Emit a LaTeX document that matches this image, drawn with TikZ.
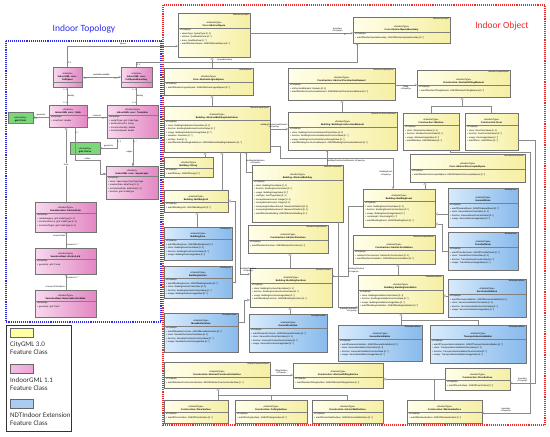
\documentclass[tikz,border=0pt]{standalone}
\usepackage{fontspec}
\setmainfont{Liberation Sans}
\newfontfamily\legendfont{Carlito}
\usetikzlibrary{arrows.meta}

\definecolor{cityL}{HTML}{FFFFEA}
\definecolor{cityR}{HTML}{F6EFA4}
\definecolor{indoorL}{HTML}{F8D8ED}
\definecolor{indoorR}{HTML}{E388C4}
\definecolor{ndtL}{HTML}{D8EBFC}
\definecolor{ndtR}{HTML}{88BAEC}
\definecolor{gmlgreen}{HTML}{7CD67A}
\definecolor{linegray}{HTML}{8A8A8A}
\definecolor{topoblue}{HTML}{2D2DF2}
\definecolor{objred}{HTML}{EE2A2A}
\definecolor{swcity}{HTML}{FFFFA4}
\definecolor{swindoor}{HTML}{EEA2D7}
\definecolor{swndt}{HTML}{A9CDF2}

\tikzset{
  clsbox/.style={draw=black!55, line width=0.3pt, anchor=north west, inner sep=0pt, outer sep=0pt},
  citygml/.style={left color=cityL, right color=cityR},
  indoorgml/.style={left color=indoorL, right color=indoorR},
  ndtindoor/.style={left color=ndtL, right color=ndtR},
  geomcls/.style={fill=gmlgreen},
  clsrule/.style={draw=black!50, line width=0.25pt},
  clsstereo/.style={anchor=north east, inner sep=0pt, font=\fontsize{1.9}{2.3}\selectfont\itshape},
  clshead/.style={anchor=south, inner sep=0pt, align=center, font=\fontsize{2.3}{3}\selectfont},
  clsattr/.style={anchor=north west, inner sep=0pt, align=left, font=\fontsize{2.2}{3.5}\selectfont},
  conn/.style={draw=linegray, line width=0.35pt},
  assoc/.style={conn, -{Straight Barb[length=2pt,width=2.4pt]}},
  gen/.style={conn, -{Triangle[open,length=2.6pt,width=3pt]}},
  comp/.style={conn, -{Diamond[length=3.4pt,width=2.4pt]}},
  lbl/.style={inner sep=0.4pt, align=center, font=\fontsize{2.1}{2.6}\selectfont},
  frametopo/.style={draw=topoblue, line width=1.1pt, densely dotted},
  frameobj/.style={draw=objred, line width=1.1pt, densely dotted},
  titletext/.style={inner sep=0pt, font=\legendfont\fontsize{9.5}{11}\selectfont},
  swatch/.style={draw=black!60, line width=0.4pt, anchor=north west, minimum width=23pt, minimum height=9pt, inner sep=0pt},
  legendtext/.style={anchor=north west, inner sep=0pt, align=left, text=black!80, font=\legendfont\fontsize{7}{8}\selectfont},
}

\newcommand{\fthead}[1]{«FeatureType»\\\textbf{#1}}
\newcommand{\umlclass}[9]{%
  \node[clsbox,#6,minimum width=#3pt,minimum height=#4pt] (#1) at (#2) {};
  \draw[clsrule] ([yshift=-#5pt]#1.north west) -- ([yshift=-#5pt]#1.north east);
  \node[clsstereo] (#1-st) at ([xshift=-1pt,yshift=-0.8pt]#1.north east) {#7};
  \node[clshead] (#1-hd) at ([yshift=-#5pt+1.2pt]#1.north) {#8};
  \node[clsattr] (#1-at) at ([xshift=2pt,yshift=-#5pt-1.2pt]#1.north west) {#9};
}

\begin{document}
\begin{tikzpicture}[x=1pt,y=-1pt]
  \useasboundingbox (0,0) rectangle (550,437);
  \fill[white] (0,0) rectangle (550,437);

  \draw[frametopo] (6,41) rectangle (161,322);
  \draw[frameobj] (163,5) rectangle (545,425);
  \node[titletext, text=topoblue] (topotitle) at (84,29) {Indoor Topology};
  \node[titletext, text=objred] (objtitle) at (502,26) {Indoor Object};

  \umlclass{cellspace}{53,67}{29}{20}{15}{indoorgml}{}{«Feature»\\\textbf{IndoorGML core::}\\\textbf{CellSpace}}{}
  \umlclass{cellbound}{121,67}{31}{20}{15}{indoorgml}{}{«Feature»\\\textbf{IndoorGML core::}\\\textbf{CellSpaceBoundary}}{}
  \umlclass{state}{49,105}{38}{22}{10}{indoorgml}{}{«Feature»\\\textbf{IndoorGML core:: State}}{«property»\\+ innerPoint: double}
  \umlclass{transition}{107,105}{51}{33}{10}{indoorgml}{}{\fthead{IndoorGML core:: Transition}}{«property»\\+ weightType: gml::CodeType\\+ distanceFromTo: string\\+ transitionPenalty: double\\+ transitionSpeed: double}
  \umlclass{spacelayer}{106,166}{52}{33}{10}{indoorgml}{}{«Feature»\\\textbf{IndoorGML core:: SpaceLayer}}{«property»\\+ class: SpaceLayerClassTypeType\\+ creationDate: dateTime [0..1]\\+ terminationDate: dateTime [0..1]\\+ function: gml::CodeType}
  \umlclass{gmlpoint}{8,112}{25}{11}{11}{geomcls}{}{«Geometry»\\\textbf{gml::Point}}{}
  \umlclass{gmlcurve}{70,142}{30}{12}{12}{geomcls}{}{«Geometry»\\\textbf{gml::Curve}}{}
  \umlclass{anchorstate}{35,202}{61}{30}{11}{indoorgml}{}{\fthead{SeamlessNavi::AnchorState}}{«property»\\+ relatedLegacy: gml::CodeType [0..1]\\+ transitionSource: gml::CodeType [0..1]\\+ transitionTarget: gml::CodeType [0..1]}
  \umlclass{anchorlink}{35,248}{61}{26}{11}{indoorgml}{}{\fthead{SeamlessNavi::AnchorLink}}{«property»\\+ geometry: gml::Curve}
  \umlclass{external}{35,290}{61}{27}{11}{indoorgml}{}{\fthead{SeamlessNavi::ExternalAnchorState}}{«property»\\+ geometry: gml::Point}

  \umlclass{aspace}{178,13}{72}{44}{15}{citygml}{AbstractCityObject}{\fthead{Core::AbstractSpace}}{«Property»\\+ spaceType: SpaceType [0..1]\\+ volume: QualifiedVolume [0..*]\\+ area: QualifiedArea [0..*]\\+ adeOfAbstractSpace: ADEOfAbstractSpace [0..*]}
  \umlclass{asbound}{353,17}{97}{26}{15}{citygml}{AbstractCityObject}{\fthead{Core::AbstractSpaceBoundary}}{«Property»\\+ adeOfAbstractSpaceBoundary: ADEOfAbstractSpaceBoundary [0..*]}
  \umlclass{alogical}{164,68}{89}{27}{14}{citygml}{AbstractSpace}{\fthead{Core::AbstractLogicalSpace}}{«Property»\\+ adeOfAbstractLogicalSpace: ADEOfAbstractLogicalSpace [0..*]}
  \umlclass{absub}{164,106}{106}{46}{14}{citygml}{AbstractLogicalSpace}{\fthead{Building::AbstractBuildingSubdivision}}{«Property»\\+ class: BuildingSubdivisionClassValue [0..1]\\+ function: BuildingSubdivisionFunctionValue [0..*]\\+ usage: BuildingSubdivisionUsageValue [0..*]\\+ elevation: Elevation [0..*]\\+ sortKey: Real [0..1]\\+ adeOfAbstractBuildingSubdivision: ADEOfAbstractBuildingSubdivision [0..*]}
  \umlclass{storey}{164,157}{49}{20}{11}{citygml}{}{\fthead{Building::Storey}}{«Property»\\+ adeOfStorey: ADEOfStorey [0..*]}
  \umlclass{bunit}{164,190}{64}{22}{12}{citygml}{}{\fthead{Building::BuildingUnit}}{«Property»\\+ adeOfBuildingUnit: ADEOfBuildingUnit [0..*]}
  \umlclass{bzone}{164,227}{68}{33}{12}{ndtindoor}{BuildingUnit}{\fthead{BuildingZone}}{«Property»\\+ adeOfBuildingZone: ADEOfBuildingZone [0..*]\\+ class: BuildingZoneClassValue [0..1]\\+ function: BuildingZoneFunctionValue [0..*]\\+ usage: BuildingZoneUsageValue [0..*]}
  \umlclass{bsection}{164,266}{68}{32}{12}{ndtindoor}{BuildingUnit}{\fthead{BuildingSection}}{«Property»\\+ adeOfBuildingSection: ADEOfBuildingSection [0..*]\\+ class: BuildingSectionClassValue [0..1]\\+ function: BuildingSectionFunctionValue [0..*]\\+ usage: BuildingSectionUsageValue [0..*]}
  \umlclass{mfurn}{164,313}{74}{39}{13}{ndtindoor}{BuildingFurniture}{\fthead{MovableFurniture}}{«Property»\\+ adeOfMovableFurniture: ADEOfMovableFurniture [0..*]\\+ class: MovableFurnitureClassValue [0..1]\\+ function: MovableFurnitureFunctionValue [0..*]\\+ usage: MovableFurnitureUsageValue [0..*]}
  \umlclass{acsurf}{164,362}{106}{26}{15}{citygml}{AbstractThematicSurface}{\fthead{Construction::AbstractConstructionSurface}}{«Property»\\+ adeOfAbstractConstructionSurface: ADEOfAbstractConstructionSurface [0..*]}
  \umlclass{floorsurf}{164,400}{64}{23}{12}{citygml}{}{\fthead{Construction::FloorSurface}}{«Property»\\+ adeOfFloorSurface: ADEOfFloorSurface [0..*]}
  \umlclass{ceilsurf}{235,400}{72}{23}{12}{citygml}{}{\fthead{Construction::CeilingSurface}}{«Property»\\+ adeOfCeilingSurface: ADEOfCeilingSurface [0..*]}
  \umlclass{iwallsurf}{312,400}{71}{23}{12}{citygml}{}{\fthead{Construction::InteriorWallSurface}}{«Property»\\+ adeOfInteriorWallSurface: ADEOfInteriorWallSurface [0..*]}
  \umlclass{winsurf}{407,400}{75}{23}{12}{citygml}{}{\fthead{Construction::WindowSurface}}{«Property»\\+ adeOfWindowSurface: ADEOfWindowSurface [0..*]}
  \umlclass{doorsurf}{445,368}{65}{22}{12}{citygml}{}{\fthead{Construction::DoorSurface}}{«Property»\\+ adeOfDoorSurface: ADEOfDoorSurface [0..*]}
  \umlclass{afillsurf}{293,363}{90}{25}{14}{citygml}{}{\fthead{Construction::AbstractFillingSurface}}{«Property»\\+ adeOfAbstractFillingSurface: ADEOfAbstractFillingSurface [0..*]}
  \umlclass{tinst}{430,325}{96}{38}{14}{ndtindoor}{BuildingInstallation}{\fthead{TransportationInstallation}}{«Property»\\+ adeOfTransportationInstallation: ADEOfTransportationInstallation [0..*]\\+ class: TransportationInstallationClassValue [0..1]\\+ function: TransportationInstallationFunctionValue [0..*]\\+ usage: TransportationInstallationUsageValue [0..*]}
  \umlclass{ginst}{338,325}{84}{36}{14}{ndtindoor}{BuildingInstallation}{\fthead{GeneralInstallation}}{«Property»\\+ adeOfGeneralInstallation: ADEOfGeneralInstallation [0..*]\\+ class: GeneralInstallationClassValue [0..1]\\+ function: GeneralInstallationFunctionValue [0..*]\\+ usage: GeneralInstallationUsageValue [0..*]}
  \umlclass{gfurn}{249,314}{78}{38}{14}{ndtindoor}{BuildingFurniture}{\fthead{GeneralFurniture}}{«Property»\\+ adeOfGeneralFurniture: ADEOfGeneralFurniture [0..*]\\+ class: GeneralFurnitureClassValue [0..1]\\+ function: GeneralFurnitureFunctionValue [0..*]\\+ usage: GeneralFurnitureUsageValue [0..*]}
  \umlclass{bfurn}{250,268}{82}{39}{15}{citygml}{AbstractFurniture}{\fthead{Building::BuildingFurniture}}{«Property»\\+ class: BuildingFurnitureClassValue [0..1]\\+ function: BuildingFurnitureFunctionValue [0..*]\\+ usage: BuildingFurnitureUsageValue [0..*]\\+ adeOfBuildingFurniture: ADEOfBuildingFurniture [0..*]}
  \umlclass{afurn}{248,225}{80}{28}{15}{citygml}{AbstractOccupiedSpace}{\fthead{Construction::AbstractFurniture}}{«Property»\\+ adeOfAbstractFurniture: ADEOfAbstractFurniture [0..*]}
  \umlclass{abuilding}{252,165}{91}{57}{15}{citygml}{AbstractConstruction}{\fthead{Building::AbstractBuilding}}{«Property»\\+ class: BuildingClassValue [0..1]\\+ function: BuildingFunctionValue [0..*]\\+ usage: BuildingUsageValue [0..*]\\+ roofType: RoofTypeValue [0..1]\\+ storeysAboveGround: Integer [0..1]\\+ storeysBelowGround: Integer [0..1]\\+ storeyHeightsAboveGround: MeasureOrNullList [0..1]\\+ storeyHeightsBelowGround: MeasureOrNullList [0..1]\\+ adeOfAbstractBuilding: ADEOfAbstractBuilding [0..*]}
  \umlclass{bce}{288,112}{109}{38}{15}{citygml}{AbstractConstructiveElement}{\fthead{Building::BuildingConstructiveElement}}{«Property»\\+ class: BuildingConstructiveElementClassValue [0..1]\\+ function: BuildingConstructiveElementFunctionValue [0..*]\\+ usage: BuildingConstructiveElementUsageValue [0..*]\\+ adeOfBuildingConstructiveElement: ADEOfBuildingConstructiveElement [0..*]}
  \umlclass{ace}{288,68}{107}{32}{15}{citygml}{AbstractOccupiedSpace}{\fthead{Construction::AbstractConstructiveElement}}{«Property»\\+ isStructuralElement: Boolean [0..1]\\+ adeOfAbstractConstructiveElement: ADEOfAbstractConstructiveElement [0..*]}
  \umlclass{afillelem}{417,70}{93}{27}{15}{citygml}{AbstractOccupiedSpace}{\fthead{Construction::AbstractFillingElement}}{«Property»\\+ adeOfAbstractFillingElement: ADEOfAbstractFillingElement [0..*]}
  \umlclass{window}{403,113}{56}{37}{12}{citygml}{}{\fthead{Construction::Window}}{«Property»\\+ class: WindowClassValue [0..1]\\+ function: WindowFunctionValue [0..*]\\+ usage: WindowUsageValue [0..*]\\+ adeOfWindow: ADEOfWindow [0..*]}
  \umlclass{door}{465,113}{53}{37}{12}{citygml}{}{\fthead{Construction::Door}}{«Property»\\+ class: DoorClassValue [0..1]\\+ function: DoorFunctionValue [0..*]\\+ usage: DoorUsageValue [0..*]\\+ adeOfDoor: ADEOfDoor [0..*]}
  \umlclass{aunocc}{410,154}{115}{28}{15}{citygml}{AbstractPhysicalSpace}{\fthead{Core::AbstractUnoccupiedSpace}}{«Property»\\+ adeOfAbstractUnoccupiedSpace: ADEOfAbstractUnoccupiedSpace [0..*]}
  \umlclass{broom}{363,189}{72}{38}{12}{citygml}{}{\fthead{Building::BuildingRoom}}{«Property»\\+ class: BuildingRoomClassValue [0..1]\\+ function: BuildingRoomFunctionValue [0..*]\\+ usage: BuildingRoomUsageValue [0..*]\\+ roomHeight: RoomHeight [0..*]\\+ adeOfBuildingRoom: ADEOfBuildingRoom [0..*]}
  \umlclass{groom}{448,188}{70}{39}{15}{ndtindoor}{BuildingRoom}{\fthead{GeneralRoom}}{«Property»\\+ adeOfGeneralRoom: ADEOfGeneralRoom [0..*]\\+ class: GeneralRoomClassValue [0..1]\\+ function: GeneralRoomFunctionValue [0..*]\\+ usage: GeneralRoomUsageValue [0..*]}
  \umlclass{troom}{448,232}{70}{38}{15}{ndtindoor}{BuildingRoom}{\fthead{TransferRoom}}{«Property»\\+ adeOfTransferRoom: ADEOfTransferRoom [0..*]\\+ class: TransferRoomClassValue [0..1]\\+ function: TransferRoomFunctionValue [0..*]\\+ usage: TransferRoomUsageValue [0..*]}
  \umlclass{ainst}{353,235}{82}{29}{15}{citygml}{AbstractOccupiedSpace}{\fthead{Construction::AbstractInstallation}}{«Property»\\+ relationToConstruction: RelationToConstruction [0..1]\\+ adeOfAbstractInstallation: ADEOfAbstractInstallation [0..*]}
  \umlclass{binst}{358,275}{85}{38}{15}{citygml}{AbstractInstallation}{\fthead{Building::BuildingInstallation}}{«Property»\\+ class: BuildingInstallationClassValue [0..1]\\+ function: BuildingInstallationFunctionValue [0..*]\\+ usage: BuildingInstallationUsageValue [0..*]\\+ adeOfBuildingInstallation: ADEOfBuildingInstallation [0..*]}
  \umlclass{sinst}{448,279}{78}{38}{15}{ndtindoor}{BuildingInstallation}{\fthead{ServiceInstallation}}{«Property»\\+ adeOfServiceInstallation: ADEOfServiceInstallation [0..*]\\+ class: ServiceInstallationClassValue [0..1]\\+ function: ServiceInstallationFunctionValue [0..*]\\+ usage: ServiceInstallationUsageValue [0..*]}

  \coordinate (sbturn) at (357,62);
  \coordinate (nodeturn) at (100,160);
  \coordinate (secturn) at (235,201);
  \coordinate (roomturn) at (280,158);
  \coordinate (fejoin) at (462,106);
  \coordinate (trturn) at (442,224);
  \coordinate (bfturn) at (348,276);
  \coordinate (bijoin) at (401,320);
  \coordinate (mfturn) at (244,300);
  \coordinate (csjoin) at (218,395);
  \coordinate (fsjoin) at (434,379);
  \coordinate (dbturn) at (535,383);
  \coordinate (wbturn) at (530,152);
  \coordinate (wbend) at (530,413);

  \draw[assoc] (cellspace.north) |- node[lbl,pos=0.75,above]{Space} node[lbl,pos=0.1,right]{0..1} (aspace.west |- 0,46);
  \draw[assoc] (cellbound.north) |- node[lbl,pos=0.7,above]{SpaceBoundary} node[lbl,pos=0.2,right]{0..1} (sbturn) -- (asbound.south -| sbturn);
  \draw[assoc] (cellspace.east) -- (cellbound.west) node[lbl,midway,above]{partialboundedBy} node[lbl,pos=0.1,below]{0..*} node[lbl,pos=0.88,below]{0..*};
  \draw[conn] (cellspace.south) -- (cellspace.south |- state.north) node[lbl,midway,right]{duality} node[lbl,pos=0.15,left]{0..1} node[lbl,pos=0.85,left]{0..1};
  \draw[conn] (cellbound.south) -- (cellbound.south |- transition.north) node[lbl,midway,right]{duality} node[lbl,pos=0.15,left]{0..1} node[lbl,pos=0.85,left]{0..1};
  \draw[assoc] (state.west |- 0,117) -- (gmlpoint.east |- 0,117) node[lbl,midway,above]{geometry} node[lbl,pos=0.85,below]{0..1};
  \draw[conn] (state.east |- 0,117) -- (transition.west |- 0,117) node[lbl,midway,above]{connects} node[lbl,pos=0.1,below]{2} node[lbl,pos=0.85,below]{0..*};
  \draw[assoc] (transition.south -| 117,0) |- node[lbl,pos=0.75,above]{geometry} node[lbl,pos=0.2,right]{0..1} (gmlcurve.east);
  \draw[comp] (transition.south -| 133,0) -- (spacelayer.north -| 133,0) node[lbl,midway,left]{edges} node[lbl,pos=0.12,right]{0..*};
  \draw[comp] (state.south -| 75,0) |- node[lbl,pos=0.75,above]{nodes} node[lbl,pos=0.08,right]{0..*} (nodeturn) |- (spacelayer.west |- 0,174);
  \draw[gen] (anchorstate.north -| 66,0) -- (state.south -| 66,0) node[lbl,midway,fill=white]{Goal};
  \draw[assoc] (anchorlink.north -| 66,0) -- (anchorstate.south -| 66,0) node[lbl,pos=0.75,left]{connectState} node[lbl,pos=0.2,right]{connects 0..*};
  \draw[assoc] (external.north -| 66,0) -- (anchorlink.south -| 66,0) node[lbl,pos=0.75,right]{connects 0..*} node[lbl,pos=0.2,left]{«ConnectToOutdoor»};

  \draw[assoc] (aspace.east |- 0,33) -- (asbound.west |- 0,33) node[lbl,pos=0.85,above]{boundary\\«Property»} node[lbl,pos=0.93,below]{0..*};
  \draw[gen] (alogical.north -| 212,0) -- (aspace.south -| 212,0);
  \draw[gen] (absub.north -| 212,0) -- (alogical.south -| 212,0);
  \draw[gen] (storey.north -| 205,0) -- (absub.south -| 205,0);
  \draw[gen] (bunit.north -| 222,0) -- (absub.south -| 222,0);
  \draw[gen] (bzone.north -| 197,0) -- (bunit.south -| 197,0);
  \draw[gen] (bsection.east) -| (secturn) -- (bunit.east |- secturn);
  \draw[assoc] (absub.south -| 240,0) |- node[lbl,pos=0.5,anchor=south west,yshift=1pt]{buildingFurniture\\«Property»} (bfurn.west |- 0,274);
  \draw[assoc] (abuilding.west |- 0,172) -| node[lbl,pos=0.75,right]{buildingSubdivision\\«Property»} (absub.south -| 246,0);
  \draw[assoc] (absub.east |- 0,146) -| (roomturn) -| node[lbl,pos=0.75,left]{buildingRoom\\«Property»} (broom.north -| 393,0);
  \draw[assoc] (absub.east |- 0,129) -- (bce.west |- 0,129) node[lbl,pos=1,anchor=south east]{buildingConstructiveElement\\«Property»};
  \draw[assoc] (abuilding.north -| 327,0) -- (bce.south -| 327,0) node[lbl,pos=0.3,right]{buildingConstructiveElement «Property»};
  \draw[gen] (bce.north -| 342,0) -- (ace.south -| 342,0);
  \draw[assoc] (ace.east |- 0,85) -- (afillelem.west |- 0,85) node[lbl,midway,below]{filling\\«Property»};
  \draw[gen] (window.north) |- (fejoin) -- (afillelem.south -| fejoin);
  \draw[conn] (door.north) |- (fejoin);
  \draw[gen] (broom.north -| 425,0) -- (aunocc.south -| 425,0);
  \draw[gen] (groom.west |- 0,214) -- (broom.east |- 0,214);
  \draw[gen] (troom.west) -| (trturn) -- (broom.east |- trturn);
  \draw[assoc] (broom.west |- 0,206) -| node[lbl,pos=0.96,right,align=left]{buildingFurniture\\«Property»} (bfturn) -- (bfurn.east |- bfturn);
  \draw[gen] (binst.north -| 398,0) -- (ainst.south -| 398,0);
  \draw[assoc] (abuilding.south -| 338,0) |- node[lbl,pos=1,anchor=north east,align=right]{buildingInstallation\\«Property»} (binst.west |- 0,307);
  \draw[gen] (sinst.west |- 0,296) -- (binst.east |- 0,296);
  \draw[gen] (ginst.north -| 401,0) -- (binst.south -| 401,0);
  \draw[conn] (tinst.north) |- (bijoin);
  \draw[gen] (gfurn.north -| 290,0) -- (bfurn.south -| 290,0);
  \draw[gen] (bfurn.north -| 290,0) -- (afurn.south -| 290,0);
  \draw[gen] (mfurn.east |- 0,322) -| (mfturn) -- (bfurn.west |- mfturn);
  \draw[assoc] (acsurf.east |- 0,375) -- (afillsurf.west |- 0,375) node[lbl,midway,above]{fillingSurface\\«Property»};
  \draw[gen] (floorsurf.north -| csjoin) -- (acsurf.south -| csjoin);
  \draw[conn] (ceilsurf.north) |- (csjoin);
  \draw[conn] (iwallsurf.north) |- (csjoin);
  \draw[gen] (doorsurf.west |- 0,379) -- (afillsurf.east |- 0,379);
  \draw[conn] (winsurf.north -| fsjoin) -- (fsjoin);
  \draw[assoc] (door.east |- 0,140) -| (dbturn) -- (doorsurf.east |- dbturn) node[lbl,midway,above]{boundary\\«Property»};
  \draw[assoc] (window.south -| 450,0) |- (wbturn) -- (wbend) -- (winsurf.east |- wbend) node[lbl,midway,above]{boundary\\«Property»};

  \draw[black!80, line width=0.5pt] (6,325) rectangle (71,431);
  \node[swatch, fill=swcity] (swcity) at (10,328) {};
  \node[legendtext] (lgcity) at (10,341) {CityGML 3.0\\Feature Class};
  \node[swatch, left color=swindoor!70, right color=swindoor] (swindoor) at (10,364) {};
  \node[legendtext] (lgindoor) at (10,377) {IndoorGML 1.1\\Feature Class};
  \node[swatch, fill=swndt] (swndt) at (10,399) {};
  \node[legendtext] (lgndt) at (10,412) {NDTIndoor Extension\\Feature Class};
\end{tikzpicture}
\end{document}
